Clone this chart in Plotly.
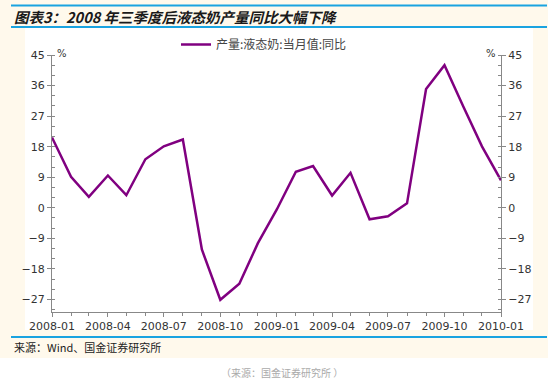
import plotly.graph_objects as go

months = ["2008-01", "2008-02", "2008-03", "2008-04", "2008-05", "2008-06", "2008-07",
          "2008-08", "2008-09", "2008-10", "2008-11", "2008-12", "2009-01", "2009-02",
          "2009-03", "2009-04", "2009-05", "2009-06", "2009-07", "2009-08", "2009-09",
          "2009-10", "2009-11", "2009-12", "2010-01"]
yoy = [20.7, 9.1, 3.2, 9.5, 3.7, 14.3, 18.1, 20.1, -12.3, -27.1, -22.4, -10.5, -0.5,
       10.6, 12.3, 3.6, 10.3, -3.4, -2.5, 1.3, 35.0, 42.0, 29.7, 18.1, 8.1]
series_name = "产量:液态奶:当月值:同比"
y_ticks = [-27, -18, -9, 0, 9, 18, 27, 36, 45]
title_text = "图表3：2008 年三季度后液态奶产量同比大幅下降"
source_text = "来源：Wind、国金证券研究所"
footer_text = "（来源：国金证券研究所 ）"

W, H = 556, 380
L, R, T, B = 52, 501, 55, 312  # plot area in pixels


def px(x):
    return (x - L) / (R - L)


def py(y):
    return (B - y) / (B - T)


CJK = "Noto Sans CJK SC"
TICKFONT = dict(family="DejaVu Sans", size=11, color="#333333")
AXCOL = "#888888"
BLUE = "#1AA3E0"

fig = go.Figure()
fig.add_trace(go.Scatter(x=months, y=yoy, mode="lines", name=series_name,
                         line=dict(color="#800080", width=2.5)))
fig.add_trace(go.Scatter(x=months, y=yoy, mode="lines", yaxis="y2", showlegend=False,
                         hoverinfo="skip", line=dict(width=0, color="rgba(0,0,0,0)")))

yax = dict(range=[-30.7, 45], tickvals=y_ticks, showgrid=False, zeroline=False,
           showline=True, linecolor=AXCOL, linewidth=1, ticks="outside", ticklen=4,
           tickcolor=AXCOL, tickfont=TICKFONT,
           minor=dict(dtick=3, tick0=0, ticks="inside", ticklen=3, tickcolor=AXCOL))

fig.update_layout(
    width=W, height=H,
    margin=dict(l=L, r=W - R, t=T, b=H - B, autoexpand=False),
    paper_bgcolor="white", plot_bgcolor="white",
    xaxis=dict(type="date", range=["2008-01-01", "2010-01-01"], tick0="2008-01-01",
               dtick="M3", tickformat="%Y-%m", showgrid=False, zeroline=False,
               showline=True, linecolor=AXCOL, linewidth=1, ticks="outside", ticklen=4,
               tickcolor=AXCOL, tickfont=TICKFONT,
               minor=dict(dtick="M1", ticks="outside", ticklen=3, tickcolor=AXCOL)),
    yaxis=yax,
    yaxis2=dict(yax, overlaying="y", side="right", matches="y"),
    showlegend=True,
    legend=dict(orientation="h", x=px(176), y=py(30), xanchor="left", yanchor="top",
                font=dict(family=CJK, size=12, color="#444444"),
                bgcolor="rgba(0,0,0,0)", itemwidth=30),
    shapes=[
        dict(type="rect", xref="paper", yref="paper", x0=px(0), x1=px(548), y0=py(0), y1=py(358),
             fillcolor="#FFF9EC", line=dict(width=0), layer="below"),
        dict(type="rect", xref="paper", yref="paper", x0=px(25), x1=px(533), y0=py(28), y1=py(330),
             fillcolor="white", line=dict(width=0), layer="below"),
        dict(type="line", xref="paper", yref="paper", x0=px(11), x1=px(547), y0=py(5.5), y1=py(5.5),
             line=dict(color=BLUE, width=2), layer="above"),
        dict(type="line", xref="paper", yref="paper", x0=px(11), x1=px(547), y0=py(27), y1=py(27),
             line=dict(color=BLUE, width=2)),
        dict(type="line", xref="paper", yref="paper", x0=px(11), x1=px(547), y0=py(337), y1=py(337),
             line=dict(color=BLUE, width=2)),
    ],
    annotations=[
        dict(text=title_text, xref="paper", yref="paper", x=px(12), y=py(16.5),
             xanchor="left", yanchor="middle", showarrow=False,
             font=dict(family=CJK, size=14.5, color="#1a1a1a", weight="bold", style="italic")),
        dict(text=source_text, xref="paper", yref="paper", x=px(12), y=py(347),
             xanchor="left", yanchor="middle", showarrow=False,
             font=dict(family=CJK, size=11, color="#222222")),
        dict(text=footer_text, xref="paper", yref="paper", x=px(282), y=py(372),
             xanchor="center", yanchor="middle", showarrow=False,
             font=dict(family=CJK, size=10, color="#AAAAAA")),
        dict(text="%", xref="paper", yref="paper", x=px(55), y=py(53),
             xanchor="left", yanchor="middle", showarrow=False,
             font=dict(family="DejaVu Sans", size=10, color="#333333")),
        dict(text="%", xref="paper", yref="paper", x=px(498), y=py(53),
             xanchor="right", yanchor="middle", showarrow=False,
             font=dict(family="DejaVu Sans", size=10, color="#333333")),
    ],
)

# remove the browser's default 8px body margin so the figure fills the window
fig.write_html("out.html", config={"displayModeBar": False},
               post_script="document.body.style.margin='0';document.body.style.padding='0';")
